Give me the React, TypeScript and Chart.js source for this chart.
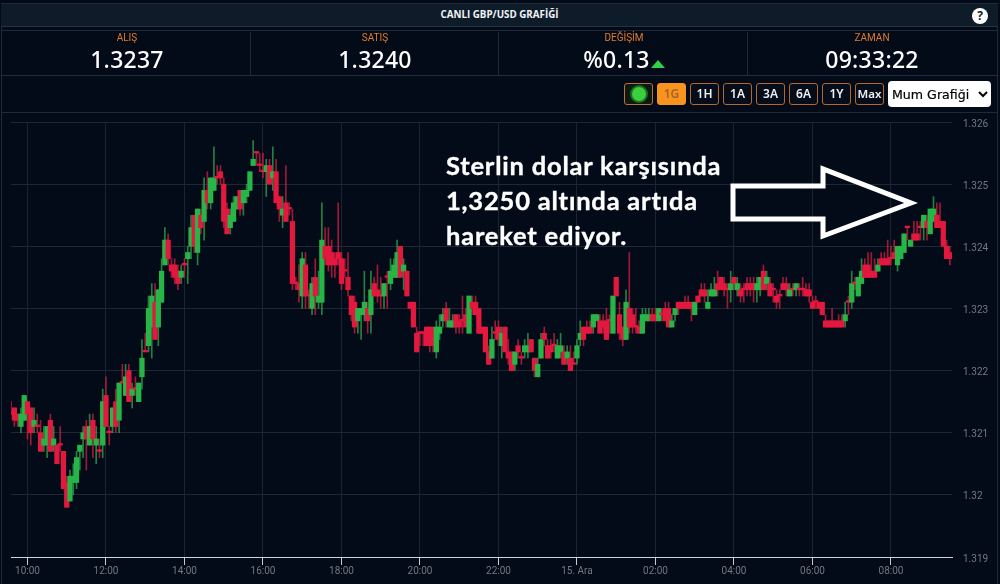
import React, { useEffect, useRef } from "react";
import { Chart, registerables } from "chart.js";

Chart.register(...registerables);

// Candles are 5 minutes apart, values are in pips above 1.3200
const basePrice = 1.32;
const pip = 0.0001;
const firstCandleMinute = 575; // 09:35
const candleMinutes = 5;

const opens = [
  13,14,13,11,12,15,14,11,11,10,8,8,12,8,8,8,7,2,-1,2,
  2,7,9,11,8,12,8,7,8,16,10,11,15,12,18,16,20,16,17,15,
  19,23,24,27,31,27,31,37,41,37,37,36,35,37,38,40,45,39,45,44,
  49,47,49,51,52,50,46,43,44,46,49,47,48,49,53,55,53,52,52,53,
  51,52,48,45,47,46,44,34,34,32,37,32,30,35,31,31,40,40,39,38,
  39,38,36,35,32,31,28,29,29,30,29,34,33,32,32,35,34,35,35,40,
  36,36,31,31,26,26,26,27,27,27,23,26,28,30,27,27,29,28,28,29,
  26,31,31,30,27,27,23,22,26,27,24,27,23,23,21,24,22,23,23,25,
  22,19,22,26,24,24,24,22,23,23,22,22,21,22,25,27,27,27,27,28,
  28,28,28,28,26,35,29,27,25,30,29,27,27,26,28,28,29,29,28,29,
  30,30,27,29,31,31,31,31,31,29,32,33,33,30,32,32,34,35,34,33,
  33,35,33,33,33,34,34,34,33,33,36,34,34,33,32,32,34,34,32,33,
  33,33,33,33,33,31,31,31,31,28,28,28,28,28,28,28,31,31,34,32,
  34,37,37,36,36,36,38,38,38,38,39,37,38,39,43,40,42,42,43,43,
  44,42,44,45,44,44,40,39,
];
const highs = [
  15,14,13,14,16,15,14,14,13,12,11,11,13,11,8,11,7,3,4,5,
  7,8,11,12,13,13,11,9,17,19,11,14,17,18,21,21,21,18,19,18,
  25,26,32,34,34,33,38,43,42,38,38,37,37,38,40,45,45,46,46,51,
  52,51,56,53,53,51,47,46,48,48,49,49,50,52,57,55,55,55,54,54,
  56,54,48,48,53,47,46,35,37,39,39,33,35,38,36,47,43,43,41,39,
  47,39,38,39,32,32,30,30,36,31,36,35,37,35,34,36,38,38,41,40,
  38,36,31,31,27,26,26,27,27,27,28,29,30,31,30,29,29,29,32,30,
  32,32,32,30,27,27,24,27,28,28,27,27,25,23,23,25,23,25,26,25,
  22,22,26,27,25,25,26,25,26,24,24,24,23,25,28,27,28,28,29,29,
  29,29,30,29,32,35,31,27,33,39,30,30,28,30,30,30,30,30,30,30,
  31,31,29,30,31,31,32,32,31,31,32,34,34,33,34,35,36,35,35,34,
  36,35,35,34,34,35,35,35,35,35,37,36,35,34,33,33,35,35,34,34,
  34,34,35,34,34,32,32,31,31,29,28,30,28,29,29,31,32,36,35,35,
  38,38,39,39,38,38,39,39,41,40,41,40,40,42,43,41,44,44,44,45,
  45,46,48,47,47,44,41,40,
];
const lows = [
  13,11,11,10,12,9,8,10,10,7,7,6,7,7,5,7,1,-2,-1,0,
  1,4,6,4,8,6,5,6,6,11,8,10,10,10,18,16,15,14,16,15,
  17,23,23,22,25,24,31,37,37,35,34,33,34,35,34,38,39,37,42,41,
  46,46,49,50,50,43,42,42,44,46,45,45,47,49,53,53,52,51,48,50,
  49,47,44,43,44,45,33,33,31,30,30,30,29,29,30,29,37,36,35,35,
  37,33,35,32,28,26,26,25,28,26,26,32,31,30,30,30,33,35,35,35,
  33,32,30,27,23,24,24,24,23,23,22,25,27,27,27,27,26,26,26,27,
  26,29,29,26,26,23,21,22,25,24,22,23,21,20,20,22,21,22,22,23,
  19,19,22,24,22,22,23,22,22,21,21,20,21,21,24,24,26,26,26,28,
  26,26,25,26,26,32,25,24,25,26,26,26,26,26,28,28,28,28,28,28,
  28,27,27,28,29,30,30,30,28,29,31,32,31,30,32,32,32,33,32,30,
  31,33,32,31,31,32,32,31,31,32,33,33,32,31,30,30,33,32,32,32,
  32,32,32,32,31,30,30,30,29,27,27,27,27,27,27,27,29,30,33,32,
  34,35,35,35,35,36,37,37,37,37,38,36,38,39,41,40,41,41,41,41,
  41,42,44,43,43,40,38,37,
];
const closes = [
  13,12,12,13,16,13,10,12,11,7,9,11,7,9,5,8,1,-2,3,3,
  6,8,10,9,11,9,9,7,15,11,10,14,11,18,18,19,15,17,17,18,
  22,23,30,32,25,33,36,41,38,36,35,34,36,37,39,43,40,46,43,49,
  47,51,51,51,51,44,42,45,47,48,46,49,49,52,54,55,53,52,53,50,
  52,47,46,46,44,46,34,34,33,38,32,32,34,32,32,41,38,37,37,37,
  38,34,36,33,29,27,30,30,31,28,33,32,32,32,34,35,36,37,39,35,
  37,32,30,27,23,26,26,24,24,24,27,27,29,28,28,28,27,27,28,27,
  32,30,29,26,26,23,21,25,26,25,26,23,22,20,23,23,22,24,24,23,
  20,21,25,25,22,23,24,24,24,21,23,20,21,24,26,25,26,26,29,29,
  26,27,25,28,32,32,26,25,31,27,27,27,26,29,29,29,28,28,30,29,
  28,27,28,30,30,30,30,30,30,31,31,32,32,31,33,33,33,33,33,33,
  34,34,34,32,33,33,33,33,34,35,33,35,32,33,31,32,33,33,33,33,
  34,33,33,32,32,30,31,30,29,27,27,27,27,27,27,29,31,34,34,35,
  36,35,35,35,35,37,37,37,37,38,38,40,40,42,43,41,41,41,43,45,
  43,46,46,43,43,40,38,38,
];

const xTickMinutes = [600, 720, 840, 960, 1080, 1200, 1320, 1440, 1560, 1680, 1800, 1920];
const xTickLabels = ["10:00", "12:00", "14:00", "16:00", "18:00", "20:00", "22:00", "15. Ara", "02:00", "04:00", "06:00", "08:00"];

const stats = [
  { label: "ALIŞ", value: "1.3237", x: 2, w: 250 },
  { label: "SATIŞ", value: "1.3240", x: 250, w: 250 },
  { label: "DEĞİŞİM", value: "%0.13", x: 499, w: 250, up: true },
  { label: "ZAMAN", value: "09:33:22", x: 748, w: 248 },
];
const rangeButtons = ["1G", "1H", "1A", "3A", "6A", "1Y", "Max"];
const noteLines = ["Sterlin dolar karşısında", "1,3250 altında artıda", "hareket ediyor."];

const GREEN = "#27b548";
const RED = "#e2183f";
const GREEN_WICK = "rgba(46,170,80,0.75)";
const RED_WICK = "rgba(214,30,66,0.75)";
const toPrice = (v: number) => +(basePrice + v * pip).toFixed(5);

export default function App() {
  const ref = useRef<HTMLCanvasElement | null>(null);

  useEffect(() => {
    document.body.style.margin = "0";
    document.body.style.background = "#030a18";
    const minute = (i: number) => firstCandleMinute + i * candleMinutes;
    const isUp = (i: number) => closes[i] > opens[i];
    const chart = new Chart(ref.current!, {
      type: "bar",
      data: {
        datasets: [
          {
            label: "body",
            data: opens.map((o, i) => ({ x: minute(i), y: [toPrice(o), toPrice(closes[i])] })),
            backgroundColor: opens.map((_, i) => (isUp(i) ? GREEN : RED)),
            barThickness: 4.6,
            minBarLength: 1.6,
            grouped: false,
            borderWidth: 0,
          } as any,
          {
            label: "wick",
            data: lows.map((l, i) => ({ x: minute(i), y: [toPrice(l), toPrice(highs[i])] })),
            backgroundColor: opens.map((_, i) => (isUp(i) ? GREEN_WICK : RED_WICK)),
            barThickness: 1,
            grouped: false,
            borderWidth: 0,
          } as any,
        ],
      },
      options: {
        animation: false,
        responsive: false,
        devicePixelRatio: 1,
        layout: { padding: { left: 11, top: 122, right: 0, bottom: 0 } },
        plugins: { legend: { display: false }, tooltip: { enabled: false } },
        scales: {
          x: {
            type: "linear",
            offset: false,
            min: 574.8,
            max: 2013.3,
            afterBuildTicks: (s: any) => {
              s.ticks = xTickMinutes.map((value) => ({ value }));
            },
            afterFit: (s: any) => {
              s.height = 27;
            },
            border: { color: "#cfd3da", width: 1 },
            grid: { offset: false, color: "#1a2431", tickColor: "#c8ccd4", tickLength: 8, drawTicks: true },
            ticks: {
              autoSkip: false,
              maxRotation: 0,
              padding: 0,
              color: "#75797f",
              font: { family: "Roboto", size: 10 },
              callback: (v: any) => xTickLabels[xTickMinutes.indexOf(Number(v))] ?? "",
            },
          },
          y: {
            position: "right",
            min: 1.319,
            max: 1.326,
            afterFit: (s: any) => {
              s.width = 48;
            },
            border: { display: false },
            grid: { color: "#1e2835", drawTicks: false },
            ticks: {
              stepSize: 0.001,
              padding: 11,
              labelOffset: 2,
              color: "#75797f",
              font: { family: "Roboto", size: 10 },
              callback: (v: any) => String(Number(Number(v).toFixed(3))),
            },
          },
        },
      },
    });
    return () => chart.destroy();
  }, []);

  const line = "#1f2a38";
  return (
    <div style={{ position: "absolute", left: 0, top: 0, width: 1000, height: 584, overflow: "hidden", background: "#030a18", fontFamily: "Roboto, sans-serif" }}>
      <canvas ref={ref} width={1000} height={584} style={{ position: "absolute", left: 0, top: 0, width: 1000, height: 584 }} />

      {/* frame */}
      <div style={{ position: "absolute", left: 1, top: 3, width: 1, height: 581, background: line }} />
      <div style={{ position: "absolute", left: 997, top: 3, width: 1, height: 581, background: line }} />

      {/* title band */}
      <div style={{ position: "absolute", left: 1, top: 3, width: 997, height: 22, background: "#0e1c2a", borderTop: "1px solid #1f2a38", borderBottom: "1px solid #26323f", color: "#f2f4f6", fontFamily: "'Open Sans'", fontWeight: 700, fontSize: 9.8, lineHeight: "22px", textAlign: "center" }}>
        CANLI GBP/USD GRAFİĞİ
      </div>
      <div style={{ position: "absolute", left: 972, top: 8, width: 16, height: 16, borderRadius: 8, background: "#fff", color: "#0e1c2a", fontFamily: "'Open Sans'", fontWeight: 700, fontSize: 12, lineHeight: "16px", textAlign: "center" }}>?</div>

      {/* stats row */}
      <div style={{ position: "absolute", left: 1, top: 30, width: 997, height: 1, background: line }} />
      <div style={{ position: "absolute", left: 1, top: 75, width: 997, height: 1, background: "#232e3c" }} />
      <div style={{ position: "absolute", left: 1, top: 112, width: 997, height: 1, background: line }} />
      <div style={{ position: "absolute", left: 250, top: 32, width: 1, height: 43, background: line }} />
      <div style={{ position: "absolute", left: 498, top: 32, width: 1, height: 43, background: line }} />
      <div style={{ position: "absolute", left: 747, top: 32, width: 1, height: 43, background: line }} />
      {stats.map((s) => (
        <div key={s.label} style={{ position: "absolute", left: s.x, top: 31, width: s.w, textAlign: "center" }}>
          <div style={{ color: "#e37a2b", fontSize: 10, lineHeight: "14px" }}>{s.label}</div>
          <div style={{ color: "#fff", fontFamily: "'Noto Sans'", fontWeight: 500, fontSize: 23, lineHeight: "29px", letterSpacing: 0.25, marginTop: 0 }}>
            {s.value}
            {s.up ? <span style={{ display: "inline-block", width: 0, height: 0, marginLeft: 1, borderLeft: "7px solid transparent", borderRight: "7px solid transparent", borderBottom: "8px solid #2fd24a" }} /> : null}
          </div>
        </div>
      ))}

      {/* range buttons */}
      <div style={{ position: "absolute", left: 624, top: 83, width: 29, height: 22, boxSizing: "border-box", border: "1px solid #c27030", borderRadius: 3, background: "#0a1a12" }}>
        <div style={{ position: "absolute", left: 7, top: 3, width: 14, height: 14, borderRadius: 7, background: "#3bcf3b", boxShadow: "0 0 0 2px #1d6b22" }} />
      </div>
      {rangeButtons.map((b, i) => (
        <div key={b} style={{ position: "absolute", left: 657 + i * 33, top: 83, width: 29, height: 22, boxSizing: "border-box", border: i === 0 ? "1px solid #f7931e" : "1px solid #b5682c", borderRadius: 3, background: i === 0 ? "#f7931e" : "#050c1a", color: i === 0 ? "#a9602a" : "#eef0f2", fontFamily: "'Noto Sans'", fontWeight: 600, fontSize: b === "Max" ? 11.5 : 12, lineHeight: "20px", textAlign: "center" }}>
          {b}
        </div>
      ))}
      <select defaultValue="Mum Grafiği" style={{ position: "absolute", left: 888, top: 81, width: 103, height: 26, border: "none", borderRadius: 4, background: "#fff", color: "#000", fontFamily: "'DejaVu Sans'", fontSize: 12.6, padding: "0", WebkitTextStroke: "0.2px #000" } as any}>
        <option>Mum Grafiği</option>
      </select>

      {/* annotation */}
      <div style={{ position: "absolute", left: 446, top: 148, color: "#fff", fontFamily: "Lato", fontWeight: 700, fontSize: 25.5, lineHeight: "34.8px", letterSpacing: 0.8, WebkitTextStroke: "0.35px #fff", whiteSpace: "nowrap" } as any}>
        {noteLines.map((t) => (
          <div key={t}>{t}</div>
        ))}
      </div>
      <svg width={1000} height={584} style={{ position: "absolute", left: 0, top: 0, pointerEvents: "none" }}>
        <polygon points="733,186 823,186 823,169 911,203 823,236 823,219 733,219" fill="none" stroke="#fff" strokeWidth={5} />
      </svg>
    </div>
  );
}
